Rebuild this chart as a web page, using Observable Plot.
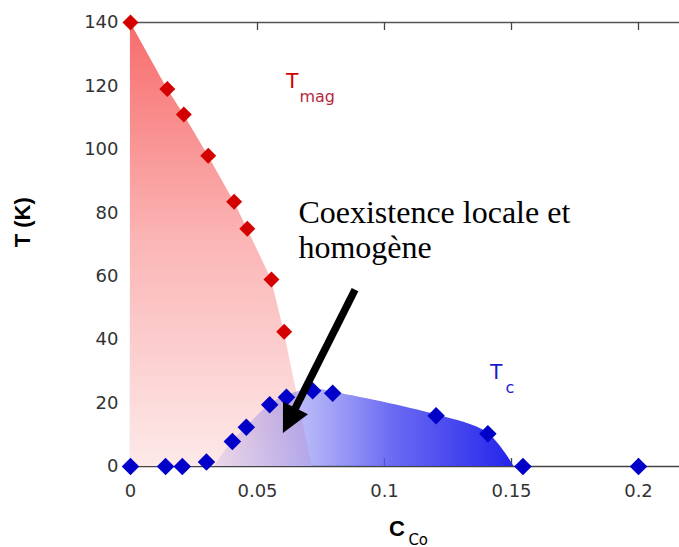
<!DOCTYPE html>
<html><head><meta charset="utf-8">
<script src="https://cdn.jsdelivr.net/npm/d3@7"></script>
<script src="https://cdn.jsdelivr.net/npm/@observablehq/plot@0.6"></script>
<style>body{margin:0;background:#fff;overflow:hidden}</style>
</head><body><div id="chart"></div>
<script>
// T_mag measured points (C_Co, T in K)
const tmagC = [0, 0.0145, 0.021, 0.0306, 0.0408, 0.046, 0.0555, 0.0605];
const tmagT = [140, 119, 111, 98, 83.5, 75, 59, 42.5];
// T_c measured points
const tcC = [0, 0.0138, 0.0204, 0.0299, 0.0401, 0.0456, 0.0548, 0.0614, 0.0717, 0.0796, 0.1203, 0.1407, 0.1545, 0.2];
const tcT = [0, 0, 0, 1.4, 7.9, 12.4, 19.5, 21.8, 23.9, 23.1, 16.0, 10.3, 0, 0];
// shaded region boundaries
const magRegionC = [0, 0.0145, 0.021, 0.0306, 0.0408, 0.046, 0.0555, 0.0605, 0.0715];
const magRegionT = [140, 119, 111, 98, 83.5, 75, 59, 42.5, 0];
const scRegionC = [0.033, 0.0401, 0.0456, 0.0548, 0.0614, 0.0717, 0.0796, 0.1203, 0.1407, 0.151];
const scRegionT = [0, 7.9, 12.4, 19.5, 22.3, 24.5, 23.5, 16.3, 10.5, 0];
// ticks
const xTicks = [0, 0.05, 0.1, 0.15, 0.2];
const xTickLabels = ["0", "0.05", "0.1", "0.15", "0.2"];
const yTicks = [0, 20, 40, 60, 80, 100, 120, 140];
const yTickLabels = ["0", "20", "40", "60", "80", "100", "120", "140"];
// annotations (data coordinates)
const noteText = ["Coexistence locale et\nhomogène"];
const noteC = [0.0661];
const noteT = [65.6];
const arrowFrom = [0.0886, 55.6];
const arrowTo = [0.0602, 10.4];
const seriesName = ["T", "T"];
const seriesSub = ["mag", "c"];
const seriesNameC = [0.061, 0.1413];
const seriesNameT = [119.2, 27.6];
const seriesSubC = [0.0665, 0.1476];
const seriesSubT = [114.8, 23.3];
const yTitle = ["T (K)"];
const yTitleT = [69.1];
const xTitle = ["C"];
const xTitleSub = ["Co"];
const xTitleC = [0.1049];
const xTitleSubC = [0.1094];

const tmag = tmagC.map((c, i) => ({c, t: tmagT[i]}));
const tc = tcC.map((c, i) => ({c, t: tcT[i]}));
const magRegion = magRegionC.map((c, i) => ({c, t: magRegionT[i]}));
const scRegion = scRegionC.map((c, i) => ({c, t: scRegionT[i]}));

const W = 679, H = 547, mL = 130, mR = 0, mT = 22, mB = 81;
const innerW = W - mL - mR, innerH = H - mT - mB;
const sans = "DejaVu Sans, Verdana, sans-serif";
const arial = "Liberation Sans, Arial, sans-serif";

function defs() {
  const d = d3.create("svg:defs");
  const rg = d.append("linearGradient").attr("id", "magGrad").attr("x1", 0).attr("y1", 0).attr("x2", 0).attr("y2", 1);
  rg.append("stop").attr("offset", "0").attr("stop-color", "#f76c6c");
  rg.append("stop").attr("offset", "0.5").attr("stop-color", "#fbb6b6");
  rg.append("stop").attr("offset", "1").attr("stop-color", "#fde9e9");
  const bg = d.append("linearGradient").attr("id", "scGrad").attr("x1", 0).attr("y1", 0).attr("x2", 1).attr("y2", 0);
  bg.append("stop").attr("offset", "0").attr("stop-color", "rgb(110,100,230)").attr("stop-opacity", 0.12);
  bg.append("stop").attr("offset", "0.33").attr("stop-color", "rgb(100,100,240)").attr("stop-opacity", 0.5);
  bg.append("stop").attr("offset", "0.6").attr("stop-color", "rgb(85,85,242)").attr("stop-opacity", 0.88);
  bg.append("stop").attr("offset", "1").attr("stop-color", "rgb(35,35,235)").attr("stop-opacity", 1);
  return d.node();
}

function arrowMark(index, scales) {
  const x = scales.x, y = scales.y;
  const x0 = x(arrowFrom[0]), y0 = y(arrowFrom[1]), x1 = x(arrowTo[0]), y1 = y(arrowTo[1]);
  const dx = x1 - x0, dy = y1 - y0, len = Math.hypot(dx, dy), ux = dx / len, uy = dy / len;
  const L = 28, hw = 14;
  const bx = x1 - L * ux, by = y1 - L * uy;
  const g = d3.create("svg:g");
  g.append("line").attr("x1", x0).attr("y1", y0).attr("x2", bx + ux * 2).attr("y2", by + uy * 2)
    .attr("stroke", "#000").attr("stroke-width", 7.5);
  g.append("polygon")
    .attr("points", [[x1, y1], [bx - hw * uy, by + hw * ux], [bx + hw * uy, by - hw * ux]].map(p => p.join(",")).join(" "))
    .attr("fill", "#000");
  return g.node();
}

const plot = Plot.plot({
  width: W, height: H,
  marginLeft: mL, marginRight: mR, marginTop: mT, marginBottom: mB,
  x: {domain: [0, innerW / 2540], label: null},
  y: {domain: [0, 140], label: null},
  style: {background: "#fff", overflow: "visible"},
  marks: [
    defs,
    Plot.ruleY([140], {stroke: "#555", strokeWidth: 1.5}),
    Plot.ruleY([0], {stroke: "#444", strokeWidth: 1.5}),
    Plot.ruleX([0], {stroke: "#bbb", strokeWidth: 1.2}),
    Plot.tickX(xTicks.slice(1), {x: d => d, insetBottom: innerH - 8, stroke: "#444", strokeWidth: 1.3}),
    Plot.tickX(xTicks.slice(1), {x: d => d, insetTop: innerH - 8, stroke: "#444", strokeWidth: 1.3}),
    Plot.tickY(yTicks.slice(1, -1), {y: d => d, insetRight: innerW - 8, stroke: "#bbb", strokeWidth: 1.2}),
    Plot.areaY(magRegion, {x: "c", y: "t", fill: "url(#magGrad)"}),
    Plot.areaY(scRegion, {x: "c", y: "t", fill: "url(#scGrad)", curve: "catmull-rom"}),
    Plot.axisX({ticks: xTicks, tickFormat: d => xTickLabels[xTicks.indexOf(d)], tickSize: 0, tickPadding: 18,
      fontSize: 18, fontFamily: sans, fill: "#333", label: null}),
    Plot.axisY({ticks: yTicks, tickFormat: d => yTickLabels[yTicks.indexOf(d)], tickSize: 0, tickPadding: 12,
      fontSize: 18, fontFamily: sans, fill: "#333", label: null}),
    Plot.dot(tmag, {x: "c", y: "t", symbol: "diamond2", r: 7.2, fill: "#d40000"}),
    Plot.dot(tc, {x: "c", y: "t", symbol: "diamond2", r: 7.9, fill: "#0000c8"}),
    arrowMark,
    Plot.text(noteText, {x: () => noteC[0], y: () => noteT[0], text: d => d, textAnchor: "start", lineAnchor: "bottom",
      fontSize: 32, lineHeight: 1.1, fontFamily: "Liberation Serif, Times New Roman, serif", fill: "#000"}),
    Plot.text(seriesName, {x: (d, i) => seriesNameC[i], y: (d, i) => seriesNameT[i], text: d => d, textAnchor: "start",
      lineAnchor: "bottom", fontSize: 22, fontFamily: arial, fill: (d, i) => i === 0 ? "#d40000" : "#1a1acc"}),
    Plot.text(seriesSub, {x: (d, i) => seriesSubC[i], y: (d, i) => seriesSubT[i], text: d => d, textAnchor: "start",
      lineAnchor: "bottom", fontSize: 16, fontFamily: sans, fill: (d, i) => i === 0 ? "#b8283c" : "#1a1acc"}),
    Plot.text(yTitle, {frameAnchor: "left", y: (d, i) => yTitleT[i], text: d => d, dx: -108, rotate: -90,
      fontSize: 22, fontWeight: "bold", fontFamily: arial, fill: "#000"}),
    Plot.text(xTitle, {frameAnchor: "bottom", x: (d, i) => xTitleC[i], text: d => d, dy: 69, lineAnchor: "bottom",
      fontSize: 22, fontWeight: "bold", fontFamily: arial, fill: "#000"}),
    Plot.text(xTitleSub, {frameAnchor: "bottom", x: (d, i) => xTitleSubC[i], text: d => d, dy: 78, lineAnchor: "bottom",
      textAnchor: "start", fontSize: 15, fontFamily: sans, fill: "#000"})
  ]
});
document.getElementById("chart").appendChild(plot);
</script>
</body></html>
